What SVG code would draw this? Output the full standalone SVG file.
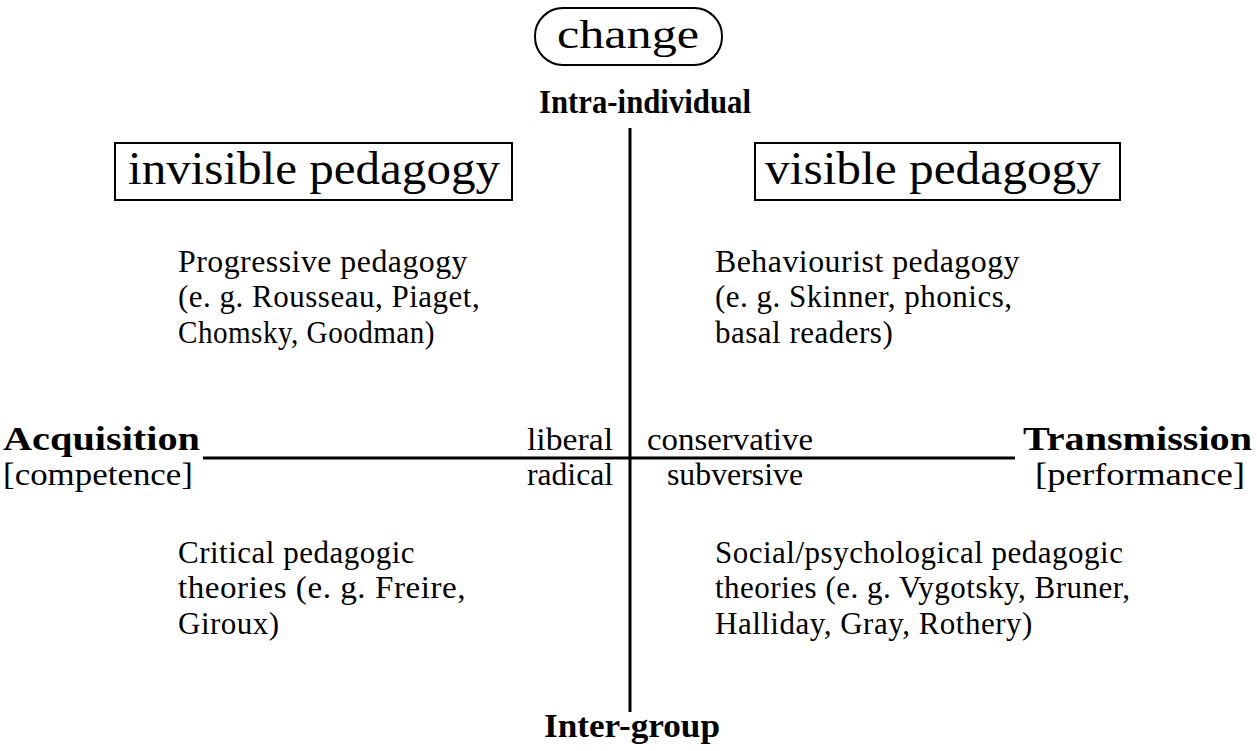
<svg xmlns="http://www.w3.org/2000/svg" width="1257" height="751" viewBox="0 0 1257 751">
<style>
text{font-family:"Liberation Serif","DejaVu Serif",serif;fill:#000}
.b{font-weight:bold;font-size:34px}
.t{font-size:31px;letter-spacing:0.5px}
.s{font-size:31px}
.h{font-size:46px}
.box{fill:#fff;stroke:#000;stroke-width:2}
.ax{stroke:#000;stroke-width:3;fill:none}
</style>
<rect width="1257" height="751" fill="#fff"/>
<g id="change">
<rect class="box" x="535" y="8" width="187" height="57" rx="28" ry="28"/>
<text x="557" y="48" font-size="40" textLength="142" lengthAdjust="spacingAndGlyphs">change</text>
</g>
<g id="connectors">
<line class="ax" x1="630" y1="128" x2="630" y2="712"/>
<line class="ax" x1="203" y1="458" x2="1015" y2="458"/>
</g>
<g id="intra"><text class="b" x="645" y="113" text-anchor="middle" font-size="31" textLength="212" lengthAdjust="spacingAndGlyphs">Intra-individual</text></g>
<g id="inter"><text class="b" x="632" y="737" text-anchor="middle" textLength="176" lengthAdjust="spacingAndGlyphs">Inter-group</text></g>
<g id="invisible">
<rect class="box" x="115" y="143" width="397" height="57"/>
<text class="h" x="128" y="184" textLength="372" lengthAdjust="spacingAndGlyphs">invisible pedagogy</text>
</g>
<g id="visible">
<rect class="box" x="755" y="143" width="365" height="57"/>
<text class="h" x="765" y="184" textLength="336" lengthAdjust="spacingAndGlyphs">visible pedagogy</text>
</g>
<g id="progressive" class="t">
<text x="178" y="272" textLength="290" lengthAdjust="spacingAndGlyphs">Progressive pedagogy</text>
<text x="178" y="307">(e. g. Rousseau, Piaget,</text>
<text x="178" y="343" textLength="257" lengthAdjust="spacingAndGlyphs">Chomsky, Goodman)</text>
</g>
<g id="behaviourist" class="t">
<text x="715" y="272" textLength="305" lengthAdjust="spacingAndGlyphs">Behaviourist pedagogy</text>
<text x="715" y="307">(e. g. Skinner, phonics,</text>
<text x="715" y="343">basal readers)</text>
</g>
<g id="critical" class="t">
<text x="178" y="563">Critical pedagogic</text>
<text x="178" y="598" textLength="288" lengthAdjust="spacingAndGlyphs">theories (e. g. Freire,</text>
<text x="178" y="634">Giroux)</text>
</g>
<g id="social" class="t">
<text x="715" y="563">Social/psychological pedagogic</text>
<text x="715" y="598">theories (e. g. Vygotsky, Bruner,</text>
<text x="715" y="634">Halliday, Gray, Rothery)</text>
</g>
<g id="acquisition">
<text class="b" x="3" y="450" textLength="197" lengthAdjust="spacingAndGlyphs">Acquisition</text>
<text class="s" x="3" y="485" textLength="190" lengthAdjust="spacingAndGlyphs">[competence]</text>
</g>
<g id="transmission">
<text class="b" x="1023" y="450" textLength="229" lengthAdjust="spacingAndGlyphs">Transmission</text>
<text class="s" x="1035" y="485" textLength="210" lengthAdjust="spacingAndGlyphs">[performance]</text>
</g>
<g id="quadrant-labels" class="s">
<text x="613" y="450" text-anchor="end" textLength="86" lengthAdjust="spacingAndGlyphs">liberal</text>
<text x="613" y="485" text-anchor="end" textLength="86" lengthAdjust="spacingAndGlyphs">radical</text>
<text x="647" y="450" textLength="166" lengthAdjust="spacingAndGlyphs">conservative</text>
<text x="667" y="485" textLength="136" lengthAdjust="spacingAndGlyphs">subversive</text>
</g>
</svg>
